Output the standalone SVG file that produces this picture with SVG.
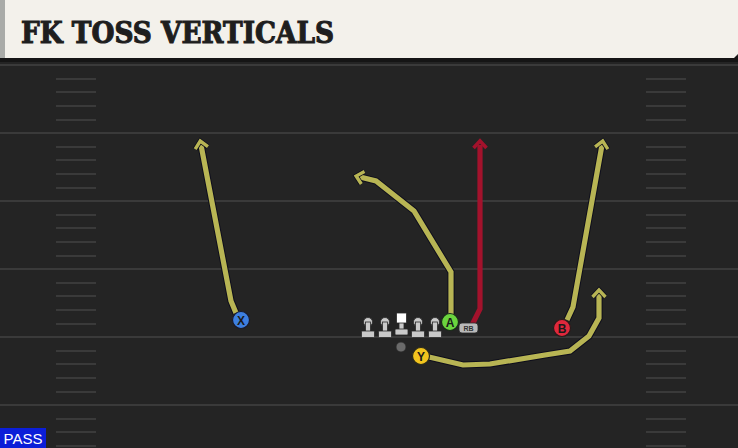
<svg xmlns="http://www.w3.org/2000/svg" width="738" height="448" viewBox="0 0 738 448">
<defs>
<style>
.yl{stroke:#3a3a3a;stroke-width:2}
.hash{stroke:#3a3a3a;stroke-width:2}
.route{fill:none;stroke-width:5.2;stroke-linejoin:miter;stroke-linecap:butt}
.edge{fill:none;stroke:#0e0e1c;stroke-width:7.2;stroke-linejoin:miter}
.yel{stroke:#b8b554}
.red{stroke:#a3122c}
.lbl{font-family:"Liberation Sans",Arial,sans-serif;font-weight:bold;font-size:12px;fill:#1a1a1a;text-anchor:middle}
.ol{fill:#c9c9c9;stroke:#2a2a2a;stroke-width:0.8}
.title{font-family:"DejaVu Serif",serif;font-weight:bold;font-size:29px;fill:#1e1e1e;stroke:#1e1e1e;stroke-width:1.1}
</style>
<marker id="ay" markerWidth="16" markerHeight="16" refX="6" refY="8" orient="auto" markerUnits="userSpaceOnUse" viewBox="0 0 16 16">
<path d="M3,1.5 L10,8 L3,14.5" fill="none" stroke="#0e0e1c" stroke-width="5"/>
<path d="M3,1.5 L10,8 L3,14.5" fill="none" stroke="#b8b554" stroke-width="3.4"/>
</marker>
<marker id="ar" markerWidth="16" markerHeight="16" refX="6" refY="8" orient="auto" markerUnits="userSpaceOnUse" viewBox="0 0 16 16">
<path d="M3,1.5 L10,8 L3,14.5" fill="none" stroke="#a3122c" stroke-width="3.6"/>
</marker>
</defs>
<rect width="738" height="448" fill="#242424"/>
<g id="field">
<line class="yl" x1="0" y1="65" x2="738" y2="65"/>
<line class="yl" x1="0" y1="133" x2="738" y2="133"/>
<line class="yl" x1="0" y1="201" x2="738" y2="201"/>
<line class="yl" x1="0" y1="269" x2="738" y2="269"/>
<line class="yl" x1="0" y1="337" x2="738" y2="337"/>
<line class="yl" x1="0" y1="405" x2="738" y2="405"/>
<g class="hash">
<line x1="56" y1="79" x2="96" y2="79"/><line x1="56" y1="92" x2="96" y2="92"/><line x1="56" y1="106" x2="96" y2="106"/><line x1="56" y1="120" x2="96" y2="120"/>
<line x1="56" y1="147" x2="96" y2="147"/><line x1="56" y1="160" x2="96" y2="160"/><line x1="56" y1="174" x2="96" y2="174"/><line x1="56" y1="188" x2="96" y2="188"/>
<line x1="56" y1="215" x2="96" y2="215"/><line x1="56" y1="228" x2="96" y2="228"/><line x1="56" y1="242" x2="96" y2="242"/><line x1="56" y1="256" x2="96" y2="256"/>
<line x1="56" y1="283" x2="96" y2="283"/><line x1="56" y1="296" x2="96" y2="296"/><line x1="56" y1="310" x2="96" y2="310"/><line x1="56" y1="324" x2="96" y2="324"/>
<line x1="56" y1="351" x2="96" y2="351"/><line x1="56" y1="364" x2="96" y2="364"/><line x1="56" y1="378" x2="96" y2="378"/><line x1="56" y1="392" x2="96" y2="392"/>
<line x1="56" y1="419" x2="96" y2="419"/><line x1="56" y1="432" x2="96" y2="432"/><line x1="56" y1="446" x2="96" y2="446"/>
<line x1="646" y1="79" x2="686" y2="79"/><line x1="646" y1="92" x2="686" y2="92"/><line x1="646" y1="106" x2="686" y2="106"/><line x1="646" y1="120" x2="686" y2="120"/>
<line x1="646" y1="147" x2="686" y2="147"/><line x1="646" y1="160" x2="686" y2="160"/><line x1="646" y1="174" x2="686" y2="174"/><line x1="646" y1="188" x2="686" y2="188"/>
<line x1="646" y1="215" x2="686" y2="215"/><line x1="646" y1="228" x2="686" y2="228"/><line x1="646" y1="242" x2="686" y2="242"/><line x1="646" y1="256" x2="686" y2="256"/>
<line x1="646" y1="283" x2="686" y2="283"/><line x1="646" y1="296" x2="686" y2="296"/><line x1="646" y1="310" x2="686" y2="310"/><line x1="646" y1="324" x2="686" y2="324"/>
<line x1="646" y1="351" x2="686" y2="351"/><line x1="646" y1="364" x2="686" y2="364"/><line x1="646" y1="378" x2="686" y2="378"/><line x1="646" y1="392" x2="686" y2="392"/>
<line x1="646" y1="419" x2="686" y2="419"/><line x1="646" y1="432" x2="686" y2="432"/><line x1="646" y1="446" x2="686" y2="446"/>
</g>
</g>
<g id="header">
<rect x="0" y="56" width="738" height="6" fill="#151515"/>
<path d="M0,0 H738 V54 L734,58 H0 Z" fill="#f3f1eb"/>
<rect x="0" y="0" width="5" height="58" fill="#a9aba8"/>
<text class="title" x="21" y="43" textLength="313" lengthAdjust="spacingAndGlyphs">FK TOSS VERTICALS</text>
</g>
<g id="connectors">
<path class="edge" d="M236,313 L231,301 L201,145"/>
<path class="route yel" d="M236,313 L231,301 L201,145" marker-end="url(#ay)"/>
<path class="edge" d="M451,314 L451,272 L414,211 L376,181 L360,177"/>
<path class="route yel" d="M451,314 L451,272 L414,211 L376,181 L360,177" marker-end="url(#ay)"/>
<path class="edge" d="M567,320 L573,307 L602,145"/>
<path class="route yel" d="M567,320 L573,307 L602,145" marker-end="url(#ay)"/>
<path class="edge" d="M429,357 L463,365 L490,364 L545,355 L570,351 L589,336 L599,318 L599,294"/>
<path class="route yel" d="M429,357 L463,365 L490,364 L545,355 L570,351 L589,336 L599,318 L599,294" marker-end="url(#ay)"/>
<path class="route red" d="M472,325 L480,309 L480,145" marker-end="url(#ar)"/>
</g>
<g id="oline">
<g class="ol">
<circle cx="368" cy="322" r="4.5"/><rect x="365.5" y="322" width="5" height="10"/><rect x="361.5" y="331" width="13" height="6.5" rx="1"/>
<circle cx="385" cy="322" r="4.5"/><rect x="382.5" y="322" width="5" height="10"/><rect x="378.5" y="331" width="13" height="6.5" rx="1"/>
<circle cx="418" cy="322" r="4.5"/><rect x="415.5" y="322" width="5" height="10"/><rect x="411.5" y="331" width="13" height="6.5" rx="1"/>
<circle cx="435" cy="322" r="4.5"/><rect x="432.5" y="322" width="5" height="10"/><rect x="428.5" y="331" width="13" height="6.5" rx="1"/>
<rect x="399" y="322" width="5" height="8"/><rect x="395" y="329" width="13" height="6" rx="1"/>
</g>
<rect x="396.5" y="313" width="10" height="10" fill="#ffffff" stroke="#2a2a2a" stroke-width="0.8"/>
</g>
<g id="qb"><circle cx="401" cy="347" r="5" fill="#6a6a6a" stroke="#2a2a2a" stroke-width="0.8"/></g>
<g id="X"><circle cx="241" cy="320" r="8.5" fill="#3d7fe0" stroke="#1a1a2a" stroke-width="1.2"/><text class="lbl" x="241" y="324.5">X</text></g>
<g id="A"><circle cx="450" cy="322" r="8.5" fill="#6bd43e" stroke="#1a2a1a" stroke-width="1.2"/><text class="lbl" x="450" y="326.5">A</text></g>
<g id="RB"><rect x="459" y="323" width="19" height="10" rx="3" fill="#b9b9b9" stroke="#2a2a2a" stroke-width="0.8"/><text x="468.5" y="331" font-family="'Liberation Sans',Arial,sans-serif" font-weight="bold" font-size="7" fill="#333" text-anchor="middle">RB</text></g>
<g id="B"><circle cx="562" cy="328" r="8.5" fill="#e0283c" stroke="#2a1a1a" stroke-width="1.2"/><text class="lbl" x="562" y="332.5">B</text></g>
<g id="Y"><circle cx="421" cy="356" r="8.5" fill="#f2c41e" stroke="#2a2a1a" stroke-width="1.2"/><text class="lbl" x="421" y="360.5">Y</text></g>
<g id="pass">
<rect x="0" y="428" width="46" height="20" fill="#0b1ed8"/>
<text x="23" y="444" font-family="'Liberation Sans',Arial,sans-serif" font-size="15" fill="#ffffff" text-anchor="middle">PASS</text>
</g>
</svg>
